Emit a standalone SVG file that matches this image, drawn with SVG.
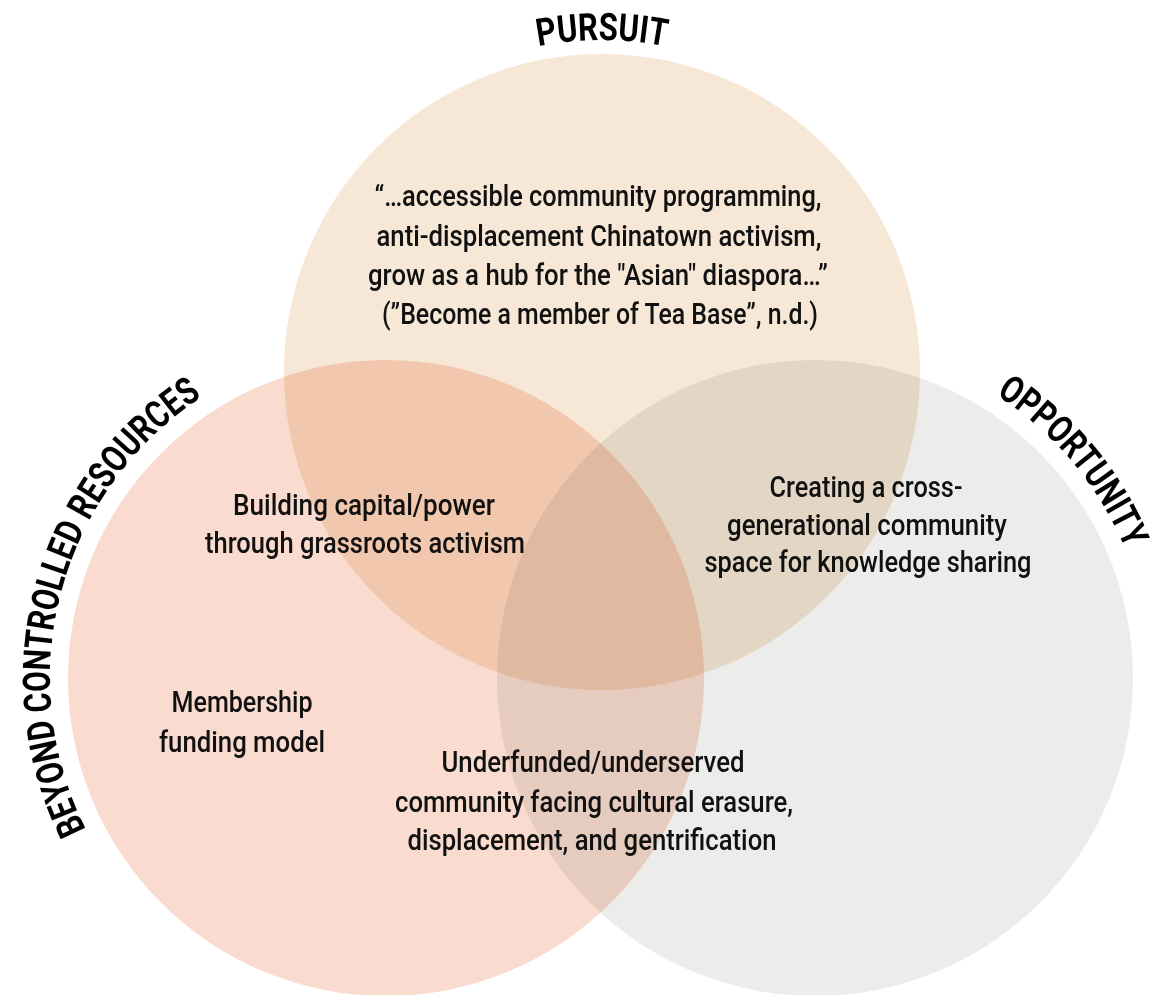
<svg xmlns="http://www.w3.org/2000/svg" width="1166" height="995" viewBox="0 0 1166 995">
<style>
.c{mix-blend-mode:multiply}
.t{font-family:Roboto,"Liberation Sans",sans-serif;font-size:29px;font-weight:500;fill:#111;text-anchor:middle}
.h{font-family:Roboto,"Liberation Sans",sans-serif;font-size:38px;font-weight:700;fill:#000;text-anchor:middle}
</style>
<defs>
<path id="arcTop" d="M 436 84.5 A 332 332 0 0 1 768 84.5"/>
<path id="arcLeft" d="M 218 969 A 336 336 0 0 1 386 342"/>
<path id="arcRight" d="M 756.7 347.1 A 336 336 0 0 1 1130.7 792.9"/>
</defs>
<rect x="0" y="0" width="1166" height="995" fill="#fff"/>
<g id="circles">
<circle class="c" cx="602" cy="372" r="318" fill="#f7e7d6"/>
<circle class="c" cx="386" cy="678" r="318" fill="#f9dccf"/>
<circle class="c" cx="815" cy="678" r="318" fill="#ecedeb"/>
</g>
<g id="label-pursuit">
<text class="h"><textPath href="#arcTop" startOffset="50%" textLength="128" lengthAdjust="spacingAndGlyphs">PURSUIT</textPath></text>
</g>
<g id="label-beyond">
<text class="h"><textPath href="#arcLeft" startOffset="50%" textLength="490" lengthAdjust="spacingAndGlyphs">BEYOND CONTROLLED RESOURCES</textPath></text>
</g>
<g id="label-opportunity">
<text class="h"><textPath href="#arcRight" startOffset="50%" textLength="204" lengthAdjust="spacingAndGlyphs">OPPORTUNITY</textPath></text>
</g>
<g id="node-pursuit">
<text class="t" x="598" y="206" textLength="447" lengthAdjust="spacingAndGlyphs">“…accessible community programming,</text>
<text class="t" x="599" y="246" textLength="445" lengthAdjust="spacingAndGlyphs">anti-displacement Chinatown activism,</text>
<text class="t" x="598" y="285" textLength="460" lengthAdjust="spacingAndGlyphs">grow as a hub for the "Asian" diaspora…”</text>
<text class="t" x="600" y="324" textLength="436" lengthAdjust="spacingAndGlyphs">(”Become a member of Tea Base”, n.d.)</text>
</g>
<g id="node-pursuit-beyond">
<text class="t" x="364" y="515" textLength="262" lengthAdjust="spacingAndGlyphs">Building capital/power</text>
<text class="t" x="365" y="553" textLength="320" lengthAdjust="spacingAndGlyphs">through grassroots activism</text>
</g>
<g id="node-pursuit-opportunity">
<text class="t" x="866" y="497" textLength="193" lengthAdjust="spacingAndGlyphs">Creating a cross-</text>
<text class="t" x="867" y="535" textLength="280" lengthAdjust="spacingAndGlyphs">generational community</text>
<text class="t" x="868" y="572" textLength="327" lengthAdjust="spacingAndGlyphs">space for knowledge sharing</text>
</g>
<g id="node-beyond">
<text class="t" x="242" y="712" textLength="141" lengthAdjust="spacingAndGlyphs">Membership</text>
<text class="t" x="242" y="752" textLength="166" lengthAdjust="spacingAndGlyphs">funding model</text>
</g>
<g id="node-beyond-opportunity">
<text class="t" x="593" y="772" textLength="303" lengthAdjust="spacingAndGlyphs">Underfunded/underserved</text>
<text class="t" x="594" y="812" textLength="398" lengthAdjust="spacingAndGlyphs">community facing cultural erasure,</text>
<text class="t" x="592" y="850" textLength="369" lengthAdjust="spacingAndGlyphs">displacement, and gentrification</text>
</g>
</svg>
